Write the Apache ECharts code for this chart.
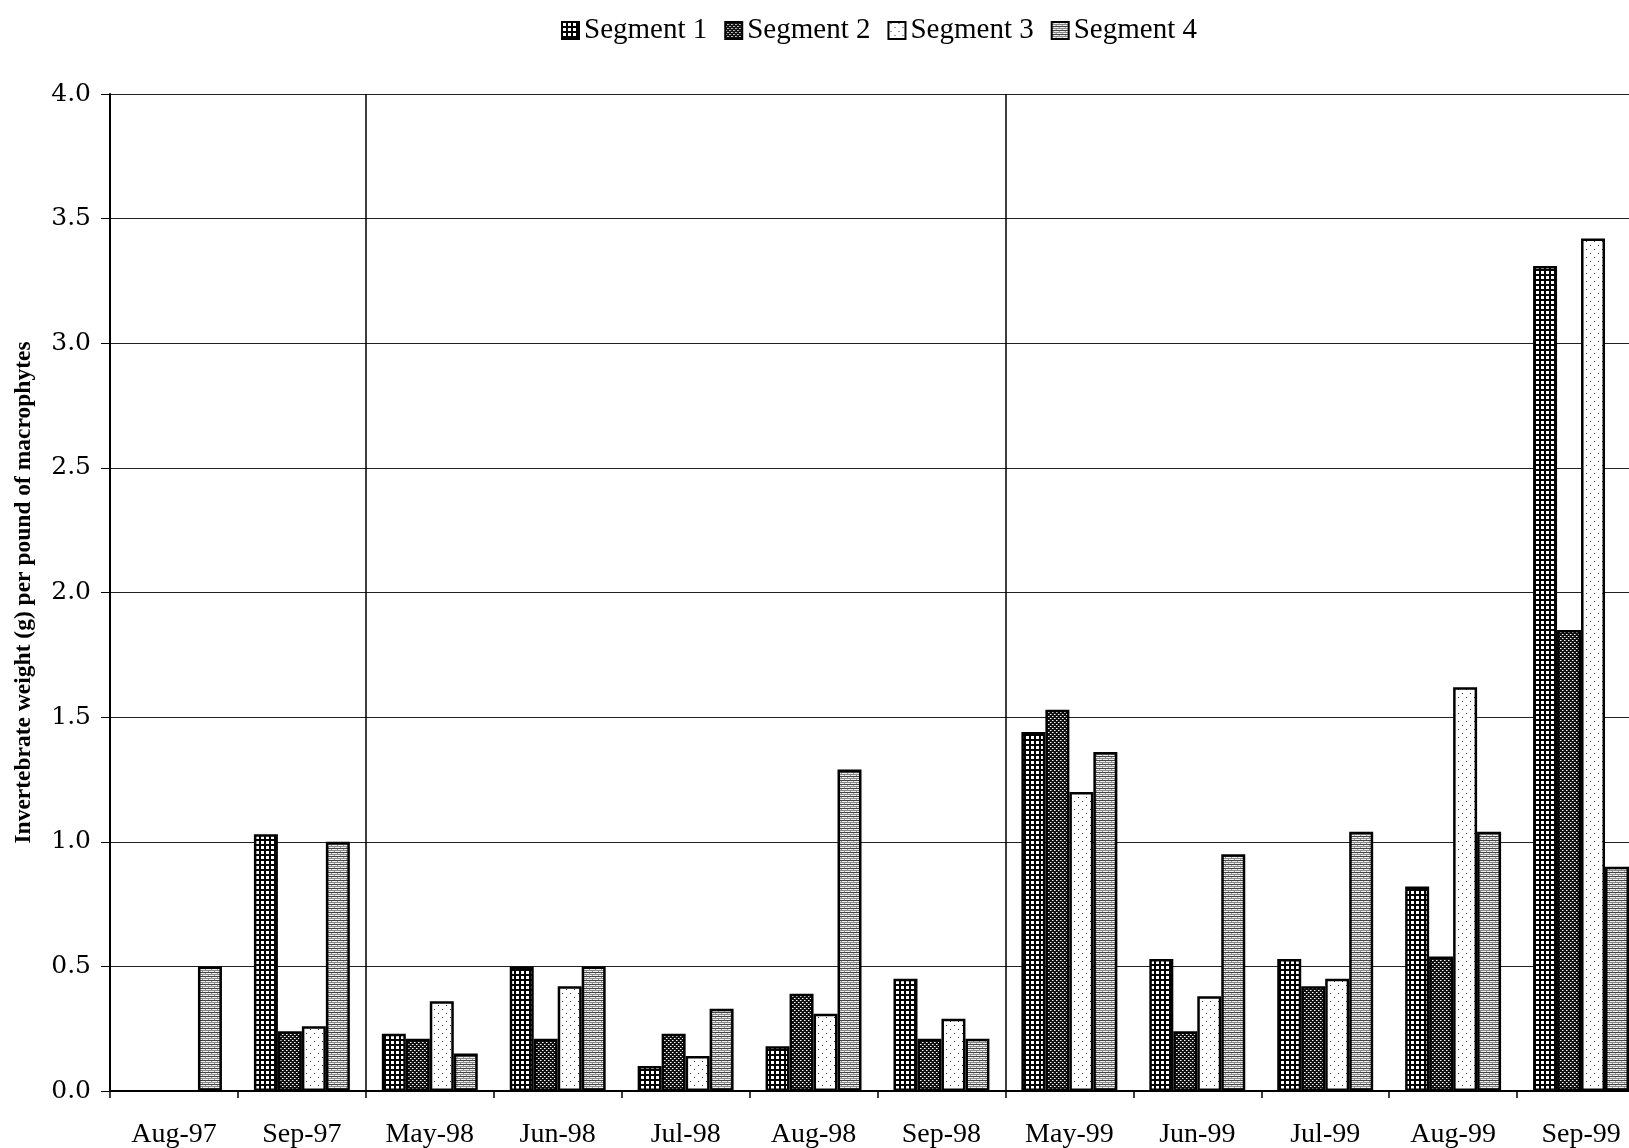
<!DOCTYPE html>
<html>
<head>
<meta charset="utf-8">
<script src="https://cdn.jsdelivr.net/npm/echarts@6/dist/echarts.min.js"></script>
<style>
html,body{margin:0;padding:0;background:#fff;}
#chart{width:1629px;height:1148px;}
</style>
</head>
<body>
<div id="chart"></div>
<script>
var categories = ['Aug-97','Sep-97','May-98','Jun-98','Jul-98','Aug-98','Sep-98','May-99','Jun-99','Jul-99','Aug-99','Sep-99'];
var seriesNames = ['Segment 1','Segment 2','Segment 3','Segment 4'];
var segment1 = [null, 1.03, 0.23, 0.50, 0.10, 0.18, 0.45, 1.44, 0.53, 0.53, 0.82, 3.31];
var segment2 = [null, 0.24, 0.21, 0.21, 0.23, 0.39, 0.21, 1.53, 0.24, 0.42, 0.54, 1.85];
var segment3 = [null, 0.26, 0.36, 0.42, 0.14, 0.31, 0.29, 1.20, 0.38, 0.45, 1.62, 3.42];
var segment4 = [0.50, 1.00, 0.15, 0.50, 0.33, 1.29, 0.21, 1.36, 0.95, 1.04, 1.04, 0.90];
var yTicks = [0, 0.5, 1.0, 1.5, 2.0, 2.5, 3.0, 3.5, 4.0];

function makeTile(w, h, draw) {
  var c = document.createElement('canvas');
  c.width = w; c.height = h;
  var ctx = c.getContext('2d');
  draw(ctx);
  return c;
}
// Segment 1: black grid with white squares
var pat1 = makeTile(5, 5, function (ctx) {
  ctx.fillStyle = '#000'; ctx.fillRect(0, 0, 5, 5);
  ctx.fillStyle = '#fff'; ctx.fillRect(1, 1, 3, 3);
});
// Segment 2: dark with small white dots
var pat2 = makeTile(4, 4, function (ctx) {
  ctx.fillStyle = '#111'; ctx.fillRect(0, 0, 4, 4);
  ctx.fillStyle = '#fff';
  ctx.fillRect(0, 0, 1, 1); ctx.fillRect(2, 2, 1, 1);
  ctx.fillStyle = '#888';
  ctx.fillRect(1, 0, 1, 1); ctx.fillRect(3, 2, 1, 1);
});
// Segment 3: white with sparse dots
var pat3 = makeTile(8, 8, function (ctx) {
  ctx.fillStyle = '#fff'; ctx.fillRect(0, 0, 8, 8);
  ctx.fillStyle = '#333';
  ctx.fillRect(2, 1, 1, 1); ctx.fillRect(6, 5, 1, 1);
});
// Segment 4: gray horizontal stripes
var pat4 = makeTile(6, 4, function (ctx) {
  ctx.fillStyle = '#eee'; ctx.fillRect(0, 0, 6, 4);
  ctx.fillStyle = '#444'; ctx.fillRect(0, 0, 6, 1);
  ctx.fillStyle = '#888'; ctx.fillRect(0, 2, 6, 1);
  ctx.fillStyle = '#999'; ctx.fillRect(1, 1, 1, 1); ctx.fillRect(4, 3, 1, 1);
});
var patterns = [pat1, pat2, pat3, pat4];
var dataSets = [segment1, segment2, segment3, segment4];

var serif = '"Liberation Serif", "Times New Roman", serif';
var chart = echarts.init(document.getElementById('chart'), null, {renderer: 'canvas'});

var series = seriesNames.map(function (name, i) {
  return {
    name: name,
    type: 'bar',
    data: dataSets[i],
    barGap: '0%',
    barCategoryGap: '25%',
    itemStyle: {
      color: {image: patterns[i], repeat: 'repeat'},
      borderColor: '#000',
      borderWidth: 2.5
    },
    emphasis: {disabled: true}
  };
});

chart.setOption({
  animation: false,
  backgroundColor: '#fff',
  legend: {
    left: 556,
    top: 11,
    itemWidth: 17,
    itemHeight: 17,
    itemGap: 17,
    icon: 'rect',
    textStyle: {fontFamily: serif, fontSize: 29, color: '#000'},
    data: seriesNames
  },
  grid: {left: 110, top: 94, width: 1535, height: 997, containLabel: false, outerBoundsMode: 'none'},
  xAxis: {
    type: 'category',
    data: categories,
    boundaryGap: true,
    axisLine: {show: true, lineStyle: {color: '#000', width: 2}},
    axisTick: {show: true, length: 7, lineStyle: {color: '#000', width: 1.5}},
    axisLabel: {fontFamily: serif, fontSize: 28, color: '#000', margin: 30, interval: 0},
    splitLine: {
      show: true,
      interval: function (index) { return index === 2 || index === 7; },
      lineStyle: {color: '#000', width: 1.5}
    }
  },
  yAxis: {
    type: 'value',
    min: 0,
    max: 4,
    interval: 0.5,
    name: 'Invertebrate weight (g) per pound of macrophytes',
    nameLocation: 'middle',
    nameRotate: 90,
    nameGap: 74,
    nameTextStyle: {fontFamily: serif, fontSize: 23.5, fontWeight: 'bold', color: '#000'},
    axisLine: {show: true, lineStyle: {color: '#000', width: 2}},
    axisTick: {show: true, length: 9, lineStyle: {color: '#000', width: 1}},
    axisLabel: {
      fontFamily: '"DejaVu Serif", serif', fontSize: 25, color: '#000', margin: 19,
      formatter: function (v) { return yTicks.indexOf(v) >= 0 ? v.toFixed(1) : ''; }
    },
    splitLine: {show: true, lineStyle: {color: '#222', width: 1.2}}
  },
  series: series
});
</script>
</body>
</html>
